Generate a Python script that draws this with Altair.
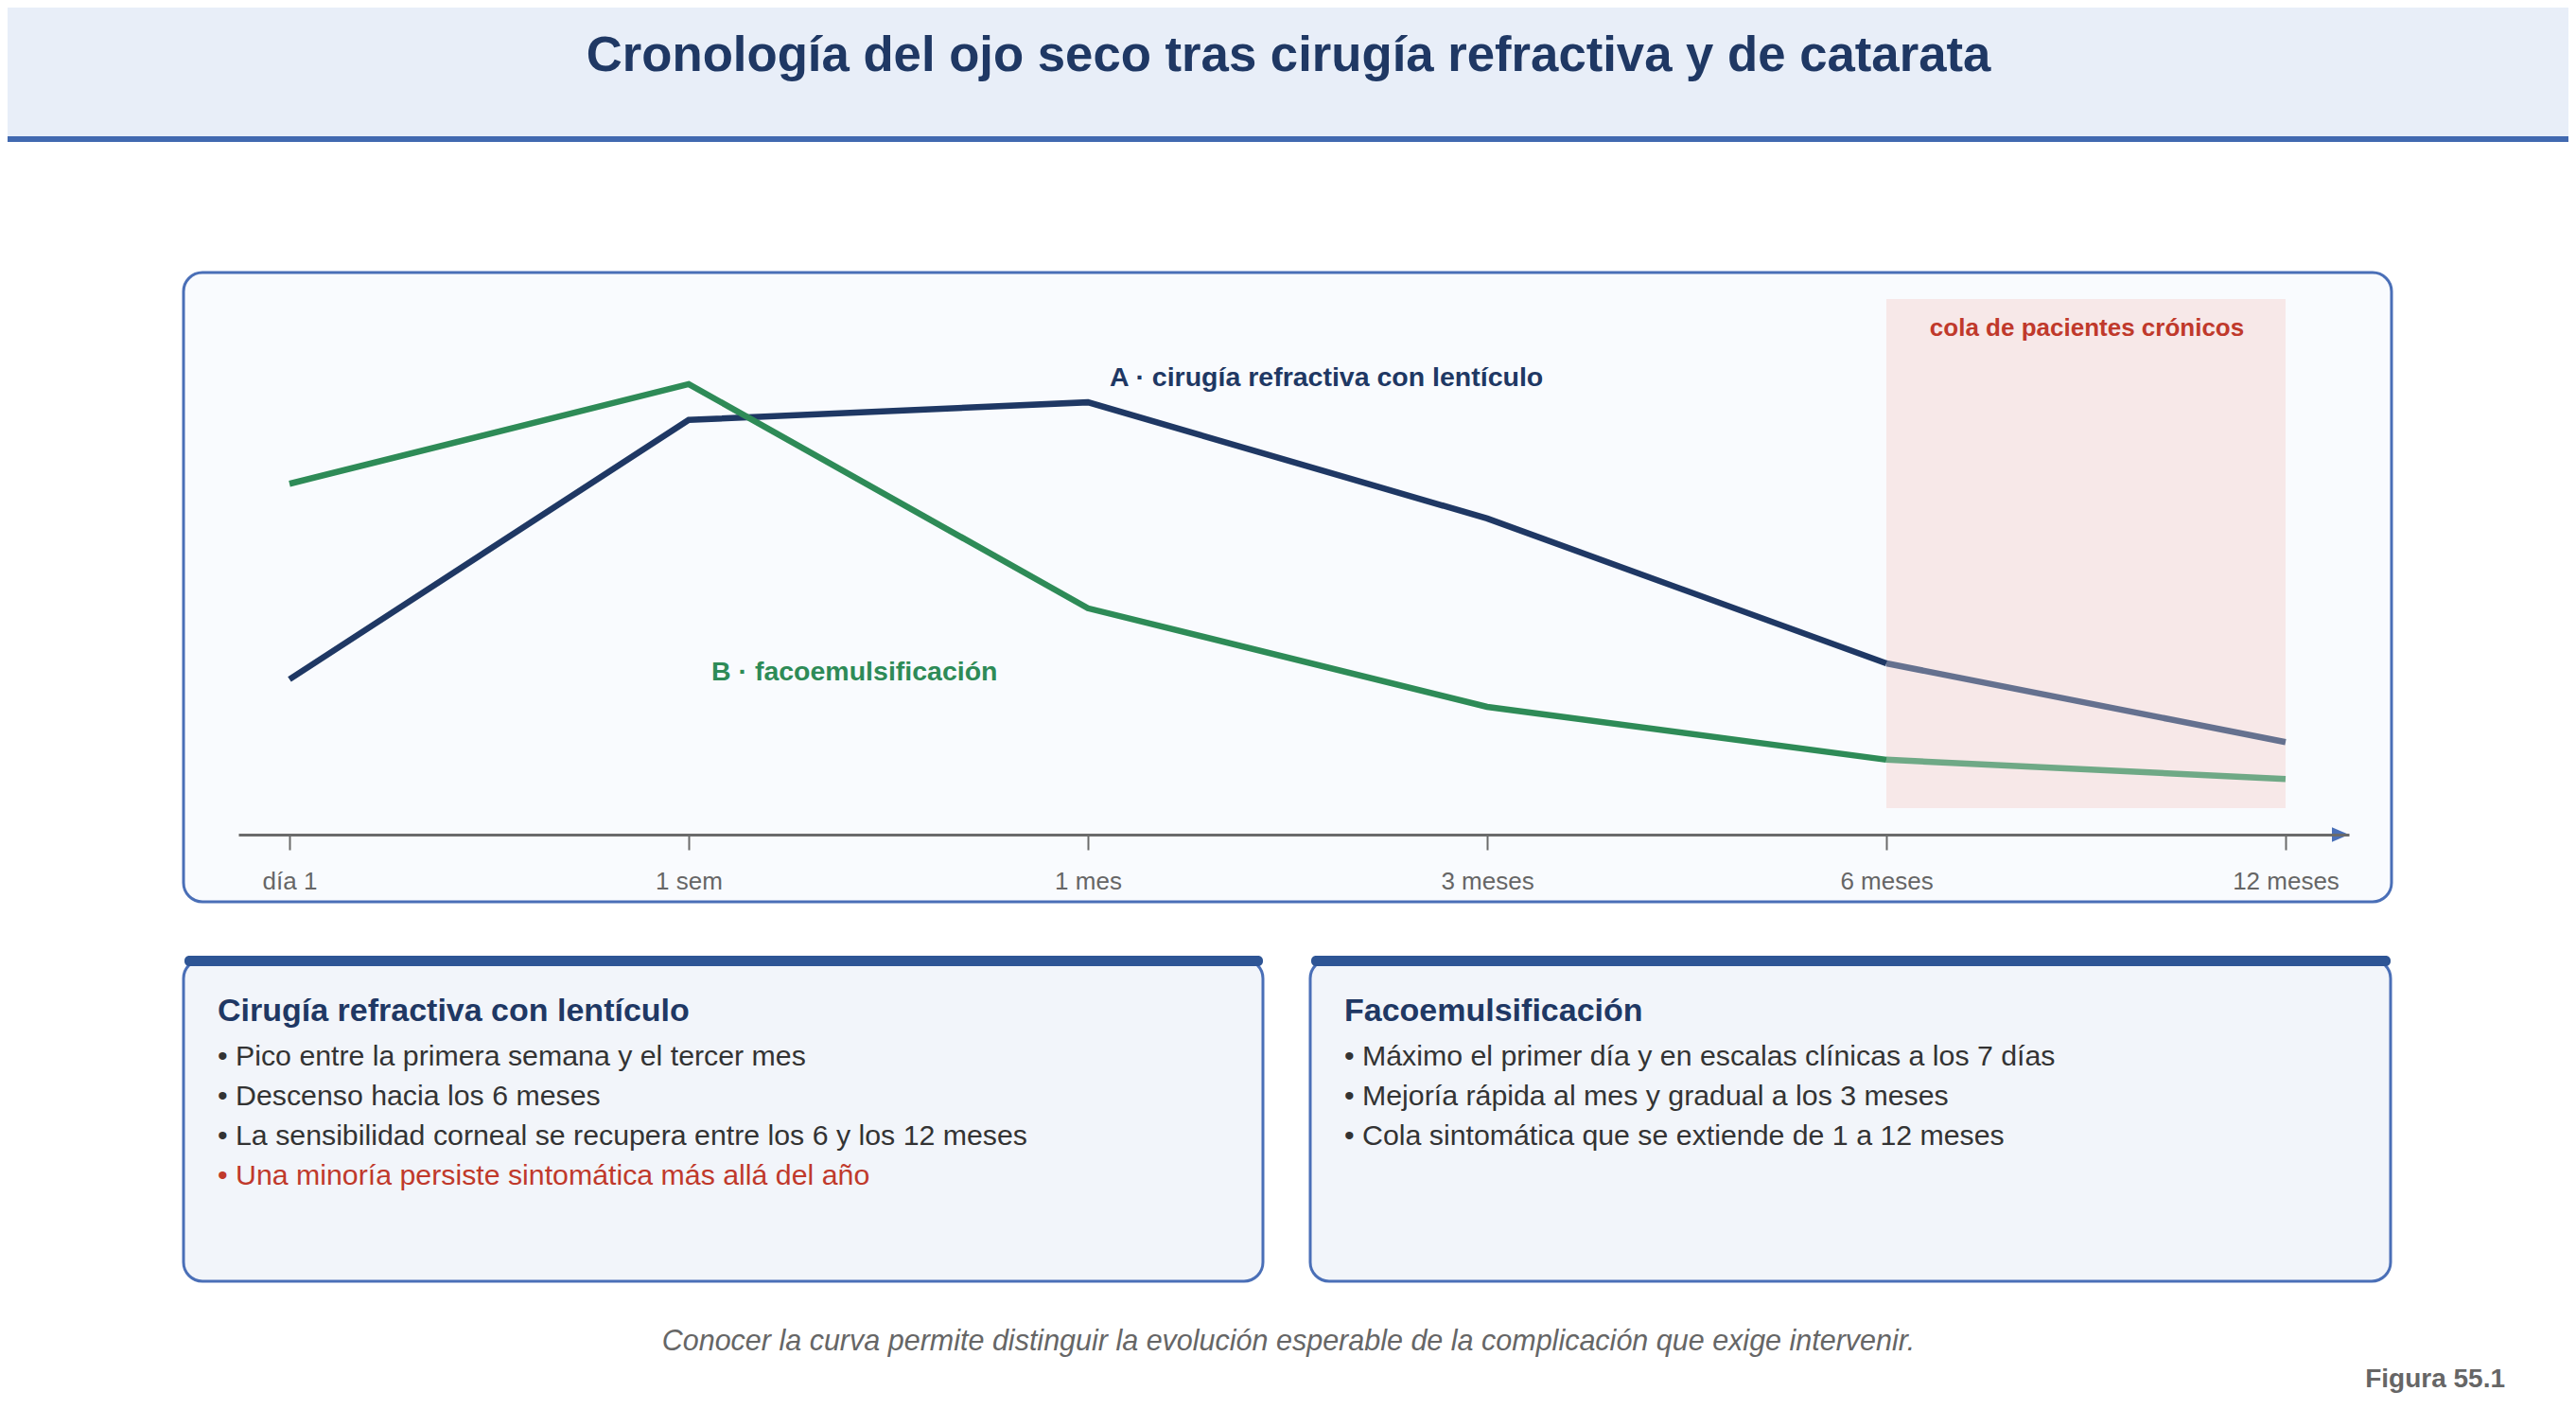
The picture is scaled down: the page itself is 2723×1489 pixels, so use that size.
import json
import altair as alt
import pandas as pd

# eje temporal y curvas (intensidad relativa de síntomas, 0-10)
momentos = ["día 1", "1 sem", "1 mes", "3 meses", "6 meses", "12 meses"]
series = ["A · cirugía refractiva con lentículo", "B · facoemulsificación"]
sintomas_a = [2.82, 7.53, 7.85, 5.74, 3.11, 1.68]
sintomas_b = [6.37, 8.18, 4.11, 2.32, 1.36, 1.01]
inicio_cola = 4  # "6 meses"
etiqueta_cola = "cola de pacientes crónicos"

titulo = "Cronología del ojo seco tras cirugía refractiva y de catarata"
nota = "Conocer la curva permite distinguir la evolución esperable de la complicación que exige intervenir."
figura = "Figura 55.1"

cabecera_a = "Cirugía refractiva con lentículo"
puntos_a = [
    "Pico entre la primera semana y el tercer mes",
    "Descenso hacia los 6 meses",
    "La sensibilidad corneal se recupera entre los 6 y los 12 meses",
    "Una minoría persiste sintomática más allá del año",
]
aviso_a = [False, False, False, True]
cabecera_b = "Facoemulsificación"
puntos_b = [
    "Máximo el primer día y en escalas clínicas a los 7 días",
    "Mejoría rápida al mes y gradual a los 3 meses",
    "Cola sintomática que se extiende de 1 a 12 meses",
]
aviso_b = [False, False, False]

FUENTE = "Liberation Sans, Arial, Helvetica, sans-serif"
AZUL = "#1f3864"
VERDE = "#2e8b57"
ROJO = "#c0392b"
BORDE = "#4a6fb7"

# lienzo y área de trazado (coordenadas de página)
W, H = 2707, 1470
PX0, PY0 = 252, 300
PW, PH = 2231, 582
UNIDAD = 422  # px por paso del eje
X_DIA1 = 306


def px(x):
    return x - PX0


def py(y):
    return y - PY0


uno = pd.DataFrame({"k": [0]})


def caja(x0, y0, x1, y1, **kw):
    return alt.Chart(uno).mark_rect(**kw).encode(
        x=alt.value(px(x0)), x2=alt.value(px(x1)),
        y=alt.value(py(y0)), y2=alt.value(py(y1)),
    )


def texto(s, x, y, size, color, weight="normal", align="left", style="normal"):
    return alt.Chart(uno).mark_text(
        text=s, font=FUENTE, fontSize=size, color=color, fontWeight=weight,
        fontStyle=style, align=align, baseline="alphabetic",
    ).encode(x=alt.value(px(x)), y=alt.value(py(y)))


filas = []
for serie, valores in zip(series, [sintomas_a, sintomas_b]):
    for t, v in enumerate(valores):
        if t <= inicio_cola:
            filas.append({"t": t, "valor": v, "serie": serie, "tramo": "principal"})
        if t >= inicio_cola:
            filas.append({"t": t, "valor": v, "serie": serie, "tramo": "cola"})
df = pd.DataFrame(filas)

escala_x = alt.Scale(
    domain=[(PX0 - X_DIA1) / UNIDAD, (PX0 + PW - X_DIA1) / UNIDAD], nice=False, zero=False
)
escala_y = alt.Scale(domain=[0, 10], nice=False, zero=False)
eje = alt.Axis(
    values=list(range(len(momentos))),
    labelExpr=f"{json.dumps(momentos, ensure_ascii=False)}[datum.value]",
    title=None, grid=False, zindex=1,
    domainColor="#6b6b6b", domainWidth=3,
    tickColor="#6b6b6b", tickWidth=2, tickSize=16,
    labelFont=FUENTE, labelFontSize=26, labelColor="#666666",
    labelPadding=41, labelBaseline="alphabetic",
    labelFlush=False, labelOverlap=False, labelBound=False,
)

capas = [
    caja(0, 0, 2723, 144, color="#e8eef8"),
    caja(0, 144, 2723, 150, color="#4169b0"),
    texto(titulo, 1362, 75, 52.7, AZUL, "bold", "center"),
    caja(194, 288, 2528, 953, fill="#f9fbfe", stroke=BORDE, strokeWidth=3, cornerRadius=20),
]

cola = alt.Chart(pd.DataFrame({"inicio": [inicio_cola], "fin": [len(momentos) - 1]})).mark_rect(
    color="#f7e8e8"
).encode(
    x=alt.X("inicio:Q", scale=escala_x, axis=eje),
    x2="fin:Q",
    y=alt.value(py(316)), y2=alt.value(py(854)),
)
capas.append(cola)

lineas = alt.Chart(df).mark_line(strokeWidth=6.5).encode(
    x=alt.X("t:Q", scale=escala_x, axis=eje),
    y=alt.Y("valor:Q", scale=escala_y, axis=None),
    color=alt.Color("serie:N", scale=alt.Scale(domain=series, range=[AZUL, VERDE]), legend=None),
    opacity=alt.Opacity("tramo:N", scale=alt.Scale(domain=["principal", "cola"], range=[1, 0.68]), legend=None),
    detail="tramo:N",
    order="t:Q",
)
capas.append(lineas)

capas += [
    texto(series[0], 1173, 408, 28.5, AZUL, "bold"),
    texto(series[1], 752, 719, 28.5, VERDE, "bold"),
    texto(etiqueta_cola, 2206, 355, 26, ROJO, "bold", "center"),
    alt.Chart(uno).mark_point(
        shape="M-1,-0.85L1,0L-1,0.85Z", size=324, filled=True, color="#4a70b8", opacity=1
    ).encode(x=alt.value(px(2474)), y=alt.value(PH)),
]

for x0, x1, cab, puntos, avisos in [
    (194, 1335, cabecera_a, puntos_a, aviso_a),
    (1385, 2527, cabecera_b, puntos_b, aviso_b),
]:
    capas.append(caja(x0, 1014, x1, 1354, fill="#f2f5fa", stroke=BORDE, strokeWidth=3, cornerRadius=20))
    capas.append(caja(x0 + 1, 1010, x1, 1021, color="#2e5595", cornerRadius=5))
    capas.append(texto(cab, x0 + 36, 1079, 34, AZUL, "bold"))
    for i, (p, a) in enumerate(zip(puntos, avisos)):
        capas.append(texto("• " + p, x0 + 36, 1126 + 42 * i, 30.3, ROJO if a else "#333333"))

capas += [
    texto(nota, 1362, 1427, 30.5, "#666666", align="center", style="italic"),
    texto(figura, 2648, 1466, 28, "#666666", "bold", "right"),
]

chart = alt.layer(*capas).properties(
    width=PW,
    height=PH,
    padding={"left": PX0 - 8, "top": PY0 - 8, "right": W - (PX0 - 8) - PW, "bottom": H - (PY0 - 8) - PH},
    autosize=alt.AutoSizeParams(type="none"),
    background="white",
).configure_view(stroke=None)

chart.save("out.html", embed_options={"renderer": "svg", "actions": False})
